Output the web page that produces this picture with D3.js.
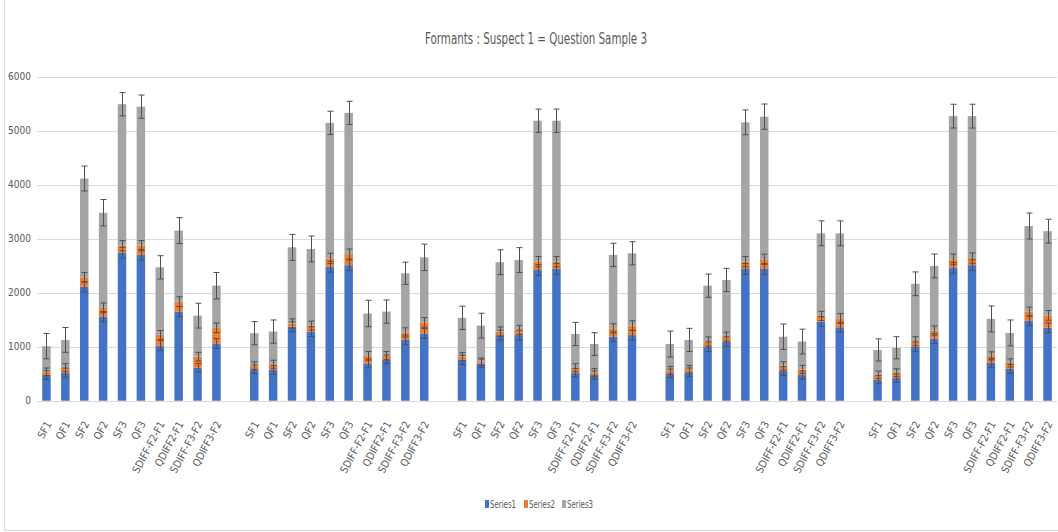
<!DOCTYPE html>
<html>
<head>
<meta charset="utf-8">
<script src="https://cdn.jsdelivr.net/npm/d3@7"></script>
<style>
  html, body { margin: 0; padding: 0; background: #fff; }
  svg { display: block; }
  text { font-family: "Liberation Sans Narrow", "Arial Narrow", "DejaVu Sans Condensed", sans-serif; fill: #595959; }
</style>
</head>
<body>
<svg id="chart" width="1058" height="532"></svg>
<script>
// Formant measurements: five comparison sets, ten measures each
const categories = ["SF1", "QF1", "SF2", "QF2", "SF3", "QF3",
  "SDIFF-F2-F1", "QDIFF2-F1", "SDIFF-F3-F2", "QDIFF3-F2"];
const sets = ["set1", "set2", "set3", "set4", "set5"];
const seriesNames = ["Series1", "Series2", "Series3"];
const yTicks = [0, 1000, 2000, 3000, 4000, 5000, 6000];

const series1 = [
  [475, 520, 2110, 1555, 2740, 2700, 1020, 1650, 610, 1060],
  [580, 570, 1370, 1280, 2480, 2510, 690, 765, 1125, 1245],
  [755, 690, 1215, 1215, 2420, 2440, 520, 475, 1185, 1215],
  [505, 525, 1000, 1095, 2440, 2440, 550, 475, 1465, 1360],
  [390, 420, 1000, 1150, 2460, 2510, 700, 590, 1480, 1350]
];
const series2 = [
  [60, 90, 175, 165, 130, 170, 195, 185, 205, 290],
  [70, 105, 60, 110, 155, 205, 140, 70, 140, 205],
  [60, 30, 65, 95, 155, 135, 90, 50, 155, 175],
  [60, 60, 95, 90, 135, 180, 95, 105, 105, 165],
  [90, 100, 100, 150, 160, 130, 130, 110, 170, 230]
];
const series3 = [
  [475, 515, 1830, 1760, 2620, 2575, 1255, 1315, 760, 780],
  [600, 605, 1410, 1420, 2510, 2615, 785, 815, 1095, 1205],
  [720, 670, 1285, 1295, 2610, 2610, 625, 525, 1360, 1340],
  [485, 540, 1035, 1050, 2580, 2640, 540, 515, 1530, 1575],
  [460, 460, 1065, 1195, 2650, 2630, 685, 555, 1585, 1560]
];
// symmetric error amounts drawn at the top of each segment
const err1 = [
  [80, 85, 95, 95, 100, 100, 90, 95, 80, 90],
  [80, 80, 90, 90, 100, 100, 80, 80, 90, 90],
  [85, 80, 90, 90, 100, 100, 80, 75, 90, 90],
  [80, 80, 90, 90, 100, 100, 80, 75, 90, 90],
  [75, 80, 90, 90, 100, 100, 80, 80, 90, 90]
];
const err2 = [
  [70, 75, 90, 90, 95, 95, 85, 90, 80, 90],
  [70, 75, 85, 85, 95, 95, 80, 75, 85, 90],
  [75, 70, 85, 85, 95, 95, 75, 70, 85, 90],
  [70, 70, 85, 85, 95, 95, 75, 75, 85, 90],
  [70, 70, 85, 85, 95, 95, 75, 75, 85, 90]
];
const err3 = [
  [235, 230, 230, 245, 215, 215, 215, 240, 230, 245],
  [215, 215, 240, 240, 215, 215, 245, 215, 205, 245],
  [215, 230, 230, 230, 215, 215, 215, 210, 215, 215],
  [240, 215, 215, 215, 230, 235, 235, 230, 230, 230],
  [205, 205, 220, 220, 220, 220, 240, 240, 240, 220]
];
const colors = ["#4472C4", "#ED7D31", "#A5A5A5"];

const svg = d3.select("#chart");
const W = 1058, H = 532;

// outer frame
svg.append("rect")
  .attr("x", 4.5).attr("y", -1).attr("width", W).attr("height", H - 0.5)
  .attr("fill", "none").attr("stroke", "#D9D9D9");

const plotLeft = 37, plotRight = 1057;
const x0 = d3.scaleBand().domain(sets).range([plotLeft, plotRight])
  .paddingInner(1 / 11).paddingOuter(0);
const x1 = d3.scaleBand().domain(categories).range([0, x0.bandwidth()])
  .paddingInner(0.55).paddingOuter(0.275);
const y = d3.scaleLinear().domain([0, 6000]).range([400.7, 76.7]);
const color = d3.scaleOrdinal().domain(seriesNames).range(colors);

// title
svg.append("text")
  .attr("x", 536).attr("y", 44)
  .attr("text-anchor", "middle")
  .attr("font-size", 15)
  .attr("textLength", 222).attr("lengthAdjust", "spacingAndGlyphs")
  .text("Formants : Suspect 1 = Question Sample 3");

// gridlines
svg.append("g").selectAll("line").data(yTicks).join("line")
  .attr("x1", plotLeft).attr("x2", plotRight)
  .attr("y1", d => Math.round(y(d)) + 0.5).attr("y2", d => Math.round(y(d)) + 0.5)
  .attr("stroke", "#D9D9D9").attr("stroke-width", 1);

// y axis labels
const yAxis = svg.append("g")
  .attr("transform", `translate(${plotLeft},0)`)
  .call(d3.axisLeft(y).tickValues(yTicks).tickSize(0).tickPadding(6).tickFormat(d3.format("d")));
yAxis.select(".domain").remove();
yAxis.selectAll("text")
  .attr("font-size", 10)
  .attr("font-family", null)
  .attr("fill", "#595959");

// rows and stack
const rows = [];
sets.forEach((s, gi) => {
  categories.forEach((c, ci) => {
    rows.push({
      set: s, cat: c,
      Series1: series1[gi][ci], Series2: series2[gi][ci], Series3: series3[gi][ci],
      e: [err1[gi][ci], err2[gi][ci], err3[gi][ci]]
    });
  });
});
const stacked = d3.stack().keys(seriesNames)(rows);
const cx = d => x0(d.data.set) + x1(d.data.cat) + x1.bandwidth() / 2;

const layers = svg.append("g").selectAll("g").data(stacked).join("g")
  .attr("fill", d => color(d.key));
layers.selectAll("rect").data(d => d).join("rect")
  .attr("x", d => x0(d.data.set) + x1(d.data.cat))
  .attr("width", x1.bandwidth())
  .attr("y", d => y(d[1]))
  .attr("height", d => y(d[0]) - y(d[1]));

// error bars
const capHalf = 3;
const errG = svg.append("g").attr("stroke", "#505050").attr("stroke-width", 1).attr("fill", "none");
stacked.forEach((layer, k) => {
  layer.forEach(d => {
    const e = d.data.e[k];
    const xc = Math.round(cx(d)) + 0.5;
    const yHi = y(d[1] + e), yLo = y(d[1] - e);
    errG.append("line").attr("x1", xc).attr("x2", xc).attr("y1", yHi).attr("y2", yLo);
    errG.append("line").attr("x1", xc - capHalf).attr("x2", xc + capHalf).attr("y1", yHi).attr("y2", yHi);
    errG.append("line").attr("x1", xc - capHalf).attr("x2", xc + capHalf).attr("y1", yLo).attr("y2", yLo);
  });
});

// category labels under every bar, sized so the longest label spans about 57px
const labels = svg.append("g").selectAll("text").data(rows).join("text")
  .attr("transform", d => `translate(${x0(d.set) + x1(d.cat) + x1.bandwidth() / 2 + 2},422) rotate(-62)`)
  .attr("text-anchor", "end")
  .attr("dy", "0.35em")
  .attr("font-size", 11)
  .text(d => d.cat);
const longest = d3.max(labels.nodes(), n => n.getComputedTextLength());
labels.attr("font-size", 11 * 57 / longest);

// legend
const legendX = [485, 524, 562];
const legend = svg.append("g").selectAll("g").data(seriesNames).join("g")
  .attr("transform", (d, i) => `translate(${legendX[i]},504)`);
legend.append("rect")
  .attr("x", 0).attr("y", -4).attr("width", 4).attr("height", 8)
  .attr("fill", d => color(d));
legend.append("text")
  .attr("x", 5).attr("y", 0).attr("dy", "0.35em")
  .attr("font-size", 10)
  .attr("textLength", 26).attr("lengthAdjust", "spacingAndGlyphs")
  .text(d => d);
</script>
</body>
</html>
